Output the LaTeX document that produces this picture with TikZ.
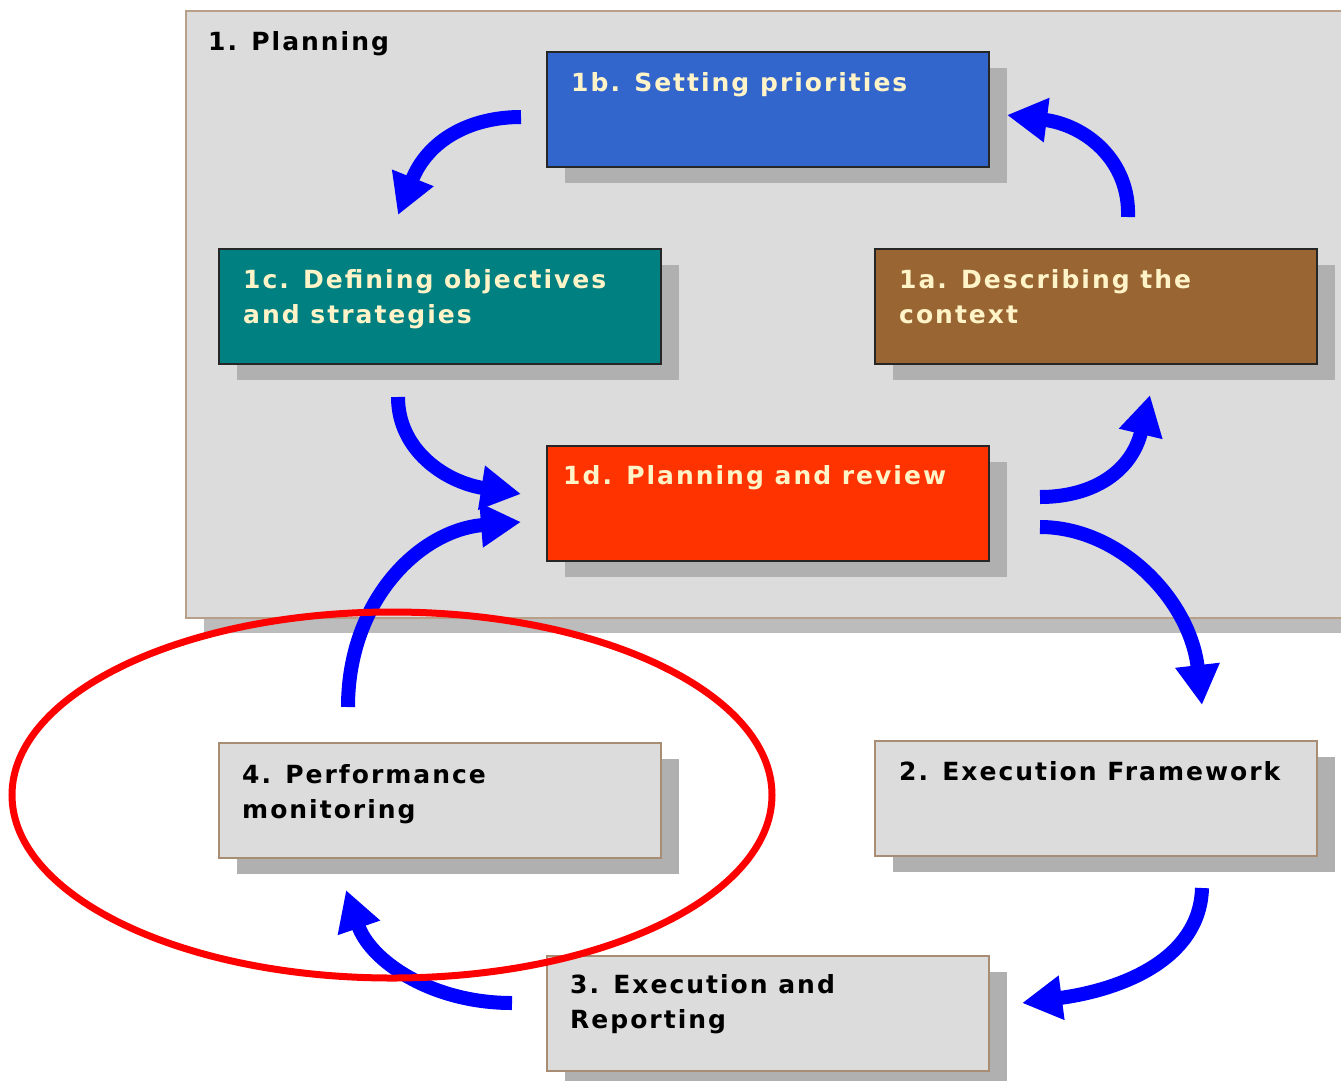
\documentclass[tikz,border=0pt]{standalone}
\usepackage{fontspec}
\setmainfont{DejaVu Sans}[LetterSpace=8]
\usetikzlibrary{arrows.meta,shadows}
\definecolor{panel}{HTML}{DCDCDC}
\definecolor{panelborder}{HTML}{B8A088}
\definecolor{shade}{HTML}{B0B0B0}
\definecolor{cblue}{HTML}{3366CC}
\definecolor{cteal}{HTML}{008080}
\definecolor{cbrown}{HTML}{996633}
\definecolor{cred}{HTML}{FF3300}
\definecolor{cream}{HTML}{FFF3C8}
\definecolor{arrowblue}{HTML}{0000FF}
\definecolor{graybox}{HTML}{DCDCDC}
\definecolor{grayborder}{HTML}{A88C74}
\tikzset{
  boxbase/.style={anchor=north west, minimum width=442pt, minimum height=115pt, inner sep=0pt, line width=1.5pt,
    drop shadow={shadow xshift=18pt, shadow yshift=-16pt, fill=shade, opacity=1}},
  colbox/.style={boxbase, draw=black!85, fill=#1},
  plainbox/.style={boxbase, draw=grayborder, fill=graybox},
  lbl/.style={anchor=base west, inner sep=0pt, align=left, font=\fontsize{25}{35}\selectfont\bfseries},
  lightlbl/.style={lbl, text=cream},
  darklbl/.style={lbl, text=black},
  arr/.style={draw=arrowblue, line width=14pt, -{Triangle[length=40pt,width=42pt]}},
}
\begin{document}
\begin{tikzpicture}[x=1pt,y=-1pt]
\useasboundingbox (0,0) rectangle (1341,1080);
\clip (0,0) rectangle (1341,1080);
\fill[white] (0,0) rectangle (1341,1080);
% planning panel
\node[anchor=north west, minimum width=1180pt, minimum height=607pt, inner sep=0pt, fill=panel, draw=panelborder, line width=1.5pt,
  drop shadow={shadow xshift=18pt, shadow yshift=-15pt, fill=shade!85!white, opacity=1}] (plan) at (185,10) {};
\node[darklbl] (planlbl) at (208,50) {1. Planning};
% boxes
\node[colbox=cblue] (b1b) at (546,51) {};
\node[colbox=cteal] (b1c) at (218,248) {};
\node[colbox=cbrown] (b1a) at (874,248) {};
\node[colbox=cred] (b1d) at (546,445) {};
\node[plainbox] (b4) at (218,742) {};
\node[plainbox] (b2) at (874,740) {};
\node[plainbox] (b3) at (546,955) {};
% labels (base = baseline of last line)
\node[lightlbl] (t1b) at ([shift={(25,40)}]b1b.north west) {1b. Setting priorities};
\node[lightlbl] (t1c) at ([shift={(25,75)}]b1c.north west) {1c. Defining objectives\\and strategies};
\node[lightlbl] (t1a) at ([shift={(25,75)}]b1a.north west) {1a. Describing the\\context};
\node[lightlbl] (t1d) at ([shift={(17,39)}]b1d.north west) {1d. Planning and review};
\node[darklbl] (t4) at ([shift={(24,76)}]b4.north west) {4. Performance\\monitoring};
\node[darklbl] (t2) at ([shift={(25,40)}]b2.north west) {2. Execution Framework};
\node[darklbl] (t3) at ([shift={(24,73)}]b3.north west) {3. Execution and\\Reporting};
% arrow end points
\coordinate (p1s) at (521,117);  \coordinate (p1e) at (398,215);
\coordinate (p2s) at (1128,217); \coordinate (p2e) at (1007,115);
\coordinate (p3s) at (398,397);  \coordinate (p3e) at (521,494);
\coordinate (p4s) at (348,707);  \coordinate (p4e) at (521,522);
\coordinate (p5s) at (1040,497); \coordinate (p5e) at (1150,395);
\coordinate (p6s) at (1040,527); \coordinate (p6e) at (1202,705);
\coordinate (p7s) at (1202,888); \coordinate (p7e) at (1022,1003);
\coordinate (p8s) at (512,1003); \coordinate (p8e) at (346,890);
\draw[arr] (p1s) .. controls (470,117) and (428,140) .. (p1e);
\draw[arr] (p2s) .. controls (1130,160) and (1085,125) .. (p2e);
\draw[arr] (p3s) .. controls (398,450) and (445,482) .. (p3e);
\draw[arr] (p4s) .. controls (348,600) and (420,530) .. (p4e);
\draw[arr] (p5s) .. controls (1095,497) and (1132,470) .. (p5e);
\draw[arr] (p6s) .. controls (1120,527) and (1190,600) .. (p6e);
\draw[arr] (p7s) .. controls (1200,960) and (1120,990) .. (p7e);
\draw[arr] (p8s) .. controls (430,1003) and (370,960) .. (p8e);
% highlight ellipse
\draw[red, line width=7pt] (392,795) ellipse [x radius=380, y radius=183];
\end{tikzpicture}
\end{document}
